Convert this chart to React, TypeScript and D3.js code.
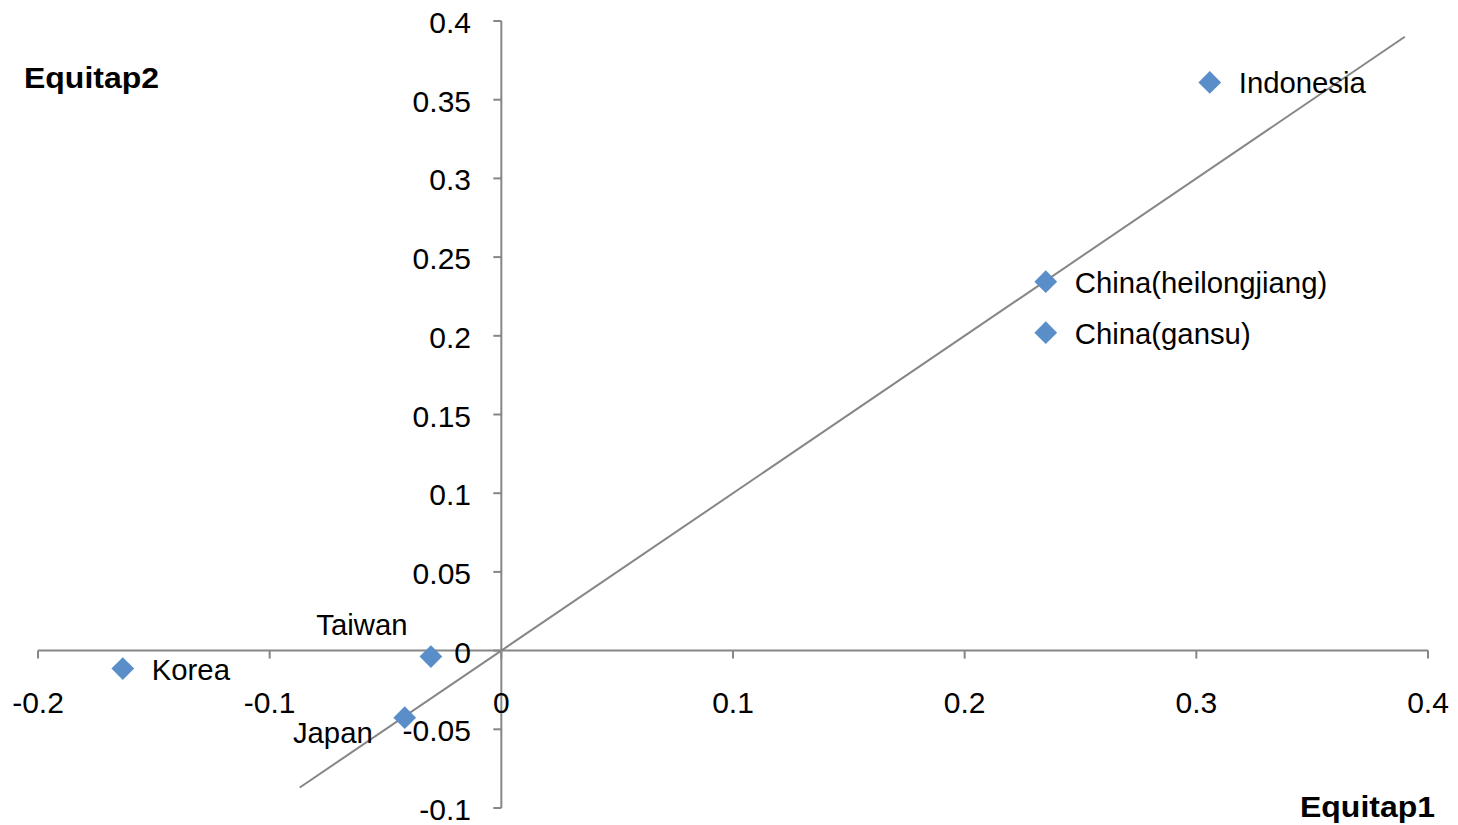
import React from "react";
import * as d3 from "d3";

const countries = ["Indonesia", "China(heilongjiang)", "China(gansu)", "Taiwan", "Japan", "Korea"];
const equitap1 = [0.3058, 0.235, 0.235, -0.0304, -0.0417, -0.1634];
const equitap2 = [0.361, 0.2344, 0.202, -0.0038, -0.0426, -0.0114];
const labelPlacement = ["right", "right", "right", "above", "left", "right"];
const xTicks = [-0.2, -0.1, 0, 0.1, 0.2, 0.3, 0.4];
const yTicks = [-0.1, -0.05, 0, 0.05, 0.1, 0.15, 0.2, 0.25, 0.3, 0.35, 0.4];
const refLine = [-0.087, 0.39];

const W = 1458;
const H = 825;
const FONT = "'Liberation Sans', Arial, sans-serif";
const AXIS = "#868686";
const MARK = "#5a8ec9";

export default function App() {
  const x = d3.scaleLinear().domain([-0.2, 0.4]).range([38, 1428]);
  const y = d3.scaleLinear().domain([-0.1, 0.4]).range([808, 21]);
  const x0 = x(0);
  const y0 = y(0);
  const line = d3.line<number>().x((d) => x(d)).y((d) => y(d));
  const fmt = (v: number) => String(+v.toFixed(2));
  const diamond = d3.symbol().type(d3.symbolDiamond2).size(330)();

  return (
    <svg width={W} height={H} style={{ position: "absolute", left: 0, top: 0, background: "#fff" }}>
      {/* axes */}
      <line x1={x(-0.2)} x2={x(0.4)} y1={y0} y2={y0} stroke={AXIS} strokeWidth={2} />
      <line x1={x0} x2={x0} y1={y(-0.1)} y2={y(0.4)} stroke={AXIS} strokeWidth={2} />
      {xTicks.map((t) => (
        <g key={"xt" + t}>
          <line x1={x(t)} x2={x(t)} y1={y0} y2={y0 + 8} stroke={AXIS} strokeWidth={2} />
          <text x={x(t)} y={713} textAnchor="middle" fontFamily={FONT} fontSize={30} fill="#000">
            {fmt(t)}
          </text>
        </g>
      ))}
      {yTicks.map((t) => (
        <g key={"yt" + t}>
          <line x1={x0 - 8} x2={x0} y1={y(t)} y2={y(t)} stroke={AXIS} strokeWidth={2} />
          <text x={471} y={y(t) + 12} textAnchor="end" fontFamily={FONT} fontSize={30} fill="#000">
            {fmt(t)}
          </text>
        </g>
      ))}
      {/* reference line */}
      <path d={line(refLine) || ""} stroke={AXIS} strokeWidth={2} fill="none" />
      {/* points */}
      {countries.map((c, i) => {
        const px = x(equitap1[i]);
        const py = y(equitap2[i]);
        const p = labelPlacement[i];
        let tx = px + 29;
        let ty = py + 11;
        let anchor: "start" | "middle" | "end" = "start";
        if (p === "above") {
          tx = px - 69;
          ty = py - 22;
          anchor = "middle";
        } else if (p === "left") {
          tx = px - 32;
          ty = py + 25;
          anchor = "end";
        }
        return (
          <g key={c}>
            <path d={diamond || ""} transform={`translate(${px},${py})`} fill={MARK} />
            <text x={tx} y={ty} textAnchor={anchor} fontFamily={FONT} fontSize={29.3} fill="#000">
              {c}
            </text>
          </g>
        );
      })}
      {/* axis titles */}
      <text x={24} y={88} fontFamily={FONT} fontWeight="bold" fontSize={30} textLength={135} lengthAdjust="spacingAndGlyphs" fill="#000">
        Equitap2
      </text>
      <text x={1300} y={817} fontFamily={FONT} fontWeight="bold" fontSize={30} textLength={135} lengthAdjust="spacingAndGlyphs" fill="#000">
        Equitap1
      </text>
    </svg>
  );
}
